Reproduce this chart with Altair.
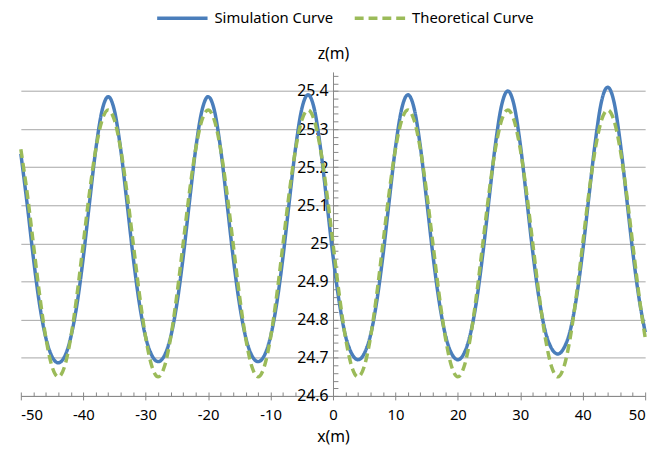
import altair as alt
import pandas as pd

x_vals = list(range(-50, 51))

simulation = [
    25.235, 25.105, 24.963, 24.840, 24.753, 24.703, 24.687, 24.703,
    24.754, 24.841, 24.963, 25.107, 25.246, 25.348, 25.385, 25.348,
    25.246, 25.107, 24.963, 24.841, 24.754, 24.706, 24.690, 24.706,
    24.755, 24.842, 24.964, 25.108, 25.247, 25.348, 25.385, 25.349,
    25.248, 25.109, 24.965, 24.843, 24.755, 24.706, 24.690, 24.706,
    24.756, 24.844, 24.966, 25.110, 25.250, 25.353, 25.390, 25.353,
    25.250, 25.110, 24.967, 24.846, 24.758, 24.711, 24.695, 24.711,
    24.759, 24.847, 24.968, 25.111, 25.251, 25.353, 25.390, 25.354,
    25.253, 25.113, 24.970, 24.848, 24.760, 24.711, 24.695, 24.712,
    24.762, 24.850, 24.973, 25.117, 25.258, 25.362, 25.400, 25.363,
    25.260, 25.120, 24.977, 24.856, 24.770, 24.725, 24.710, 24.726,
    24.772, 24.858, 24.980, 25.124, 25.265, 25.372, 25.410, 25.372,
    25.266, 25.124, 24.980, 24.858, 24.768,
]

theoretical = [
    25.247, 25.134, 25.000, 24.866, 24.753, 24.677, 24.650, 24.677,
    24.753, 24.866, 25.000, 25.134, 25.247, 25.323, 25.350, 25.323,
    25.247, 25.134, 25.000, 24.866, 24.753, 24.677, 24.650, 24.677,
    24.753, 24.866, 25.000, 25.134, 25.247, 25.323, 25.350, 25.323,
    25.247, 25.134, 25.000, 24.866, 24.753, 24.677, 24.650, 24.677,
    24.753, 24.866, 25.000, 25.134, 25.247, 25.323, 25.350, 25.323,
    25.247, 25.134, 25.000, 24.866, 24.753, 24.677, 24.650, 24.677,
    24.753, 24.866, 25.000, 25.134, 25.247, 25.323, 25.350, 25.323,
    25.247, 25.134, 25.000, 24.866, 24.753, 24.677, 24.650, 24.677,
    24.753, 24.866, 25.000, 25.134, 25.247, 25.323, 25.350, 25.323,
    25.247, 25.134, 25.000, 24.866, 24.753, 24.677, 24.650, 24.677,
    24.753, 24.866, 25.000, 25.134, 25.247, 25.323, 25.350, 25.323,
    25.247, 25.134, 25.000, 24.866, 24.753,
]

series_names = ["Simulation Curve", "Theoretical Curve"]
series_colors = ["#4a7ebb", "#9bbb59"]

x_major = [-50, -40, -30, -20, -10, 0, 10, 20, 30, 40, 50]
x_minor = list(range(-50, 51, 2))
y_major = [24.6, 24.7, 24.8, 24.9, 25.0, 25.1, 25.2, 25.3, 25.4]
y_minor = [round(24.6 + 0.02 * i, 2) for i in range(43)]

df = pd.DataFrame({
    "x": x_vals * 2,
    "z": simulation + theoretical,
    "series": [series_names[0]] * len(x_vals) + [series_names[1]] * len(x_vals),
})

FONT = "Noto Sans"
W, H = 632, 328

xscale = alt.Scale(domain=[-50, 50], nice=False)
yscale = alt.Scale(domain=[24.6, 25.45], nice=False, zero=False)

legend = alt.Legend(
    orient="none", legendX=136, legendY=-82, direction="horizontal",
    title=None, symbolType="stroke", symbolSize=2601,
    symbolStrokeWidth=3.5, labelFont=FONT, labelFontSize=15,
    labelColor="#000000", labelOffset=5, columnPadding=14)

lines = alt.Chart(df).mark_line(strokeWidth=3.5, interpolate="monotone").encode(
    x=alt.X("x:Q", scale=xscale, axis=alt.Axis(
        orient="bottom", values=x_major, title="x(m)", grid=False,
        labelExpr="'' + datum.value",
        tickSize=4, tickColor="#868686", domainColor="#868686",
        labelFont=FONT, labelFontSize=15, labelColor="#000000", labelPadding=8,
        titleFont=FONT, titleFontSize=16, titleFontWeight="normal",
        titleColor="#000000", titleY=33, titleBaseline="top")),
    y=alt.Y("z:Q", scale=yscale, axis=alt.Axis(
        orient="left", offset=-W / 2, values=y_major, format=".1~f",
        grid=True, gridColor="#a6a6a6", gridWidth=1, ticks=False,
        domainColor="#868686", labelPadding=5,
        labelFont=FONT, labelFontSize=16, labelColor="#000000",
        title="z(m)", titleAngle=0, titleX=0, titleY=-11,
        titleAlign="center", titleBaseline="bottom",
        titleFont=FONT, titleFontSize=16, titleFontWeight="normal",
        titleColor="#000000")),
    color=alt.Color("series:N", scale=alt.Scale(domain=series_names, range=series_colors),
                    legend=legend),
    strokeDash=alt.StrokeDash("series:N", scale=alt.Scale(domain=series_names, range=[[1, 0], [9, 5]]),
                              legend=legend),
)

minor = alt.Chart(df).mark_point(opacity=0).encode(
    x=alt.X("x:Q", scale=xscale, axis=alt.Axis(
        orient="top", offset=-H, values=x_minor, labels=False, tickSize=4,
        tickColor="#868686", domain=False, grid=False, title=None)),
    y=alt.Y("z:Q", scale=yscale, axis=alt.Axis(
        orient="right", offset=-W / 2, values=y_minor, labels=False, tickSize=5,
        tickColor="#868686", domain=False, grid=False, title=None)),
)

chart = alt.layer(lines, minor).resolve_axis(x="independent", y="independent").properties(
    width=W, height=H,
    autosize=alt.AutoSizeParams(type="none"),
    padding={"left": 13, "top": 62, "right": 13, "bottom": 51},
).configure_view(stroke=None)

chart.save("out.html", embed_options={"renderer": "svg", "actions": False})
